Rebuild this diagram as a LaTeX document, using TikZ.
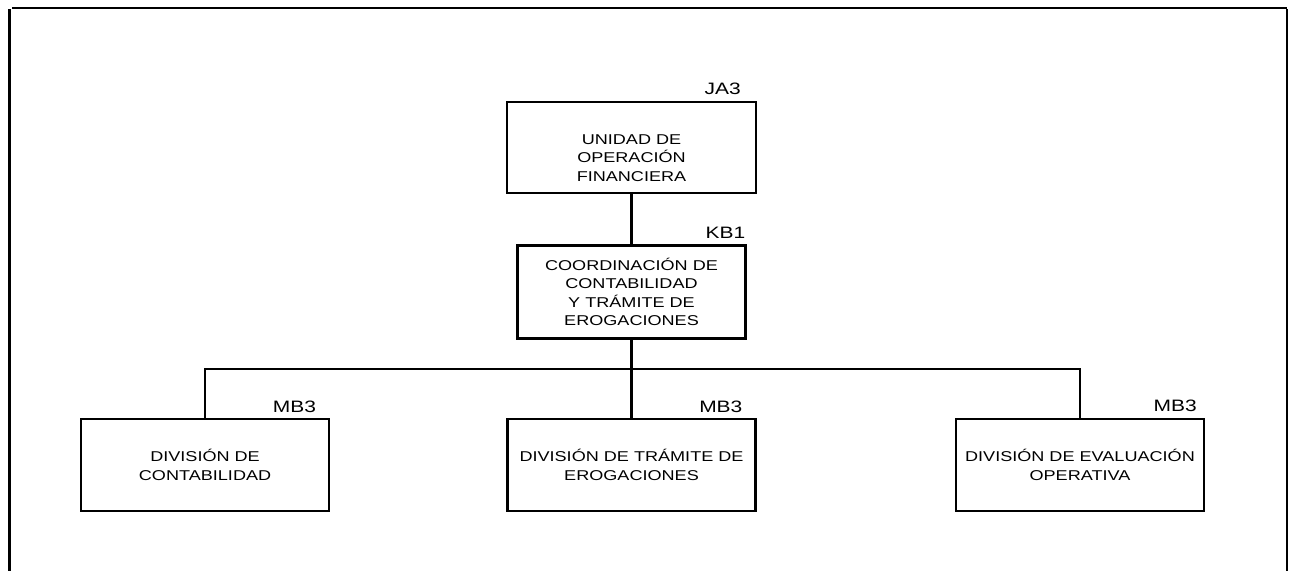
\documentclass[tikz,border=0pt]{standalone}
\usepackage{fontspec}
\setmainfont[FakeStretch=1.27]{Liberation Sans}
\usepackage{xcolor}
\usepackage{tikz}
\usetikzlibrary{positioning,calc}
\definecolor{Ink}{HTML}{000000}
\tikzset{
  unit/.style={
    draw=Ink, line width=1.4pt, align=center,
    minimum width=4.96cm, minimum height=1.84cm,
    inner sep=2pt, font=\fontsize{8.1}{10.4}\selectfont
  },
  unitTop/.style={unit,minimum width=4.98cm,minimum height=1.82cm},
  unitCoord/.style={unit,minimum width=4.56cm,minimum height=1.86cm},
  code/.style={inner sep=0pt,anchor=base east,font=\fontsize{9.4}{11}\selectfont},
  link/.style={draw=Ink,line width=1.6pt},
  frame/.style={draw=Ink,line cap=butt}
}
\begin{document}
\begin{tikzpicture}
  \useasboundingbox (0,0) rectangle (25.78,-11.42);
  % outer frame
  \draw[frame,line width=2.2pt] (0.19,-0.18) -- (0.19,-11.42);
  \draw[frame,line width=1.4pt] (0.24,-0.16) -- (25.74,-0.16);
  \draw[frame,line width=0.8pt] (25.74,-0.18) -- (25.74,-11.42);
  % boxes
  \node[unitTop] (uof) at (12.63,-2.95) {\rule{0pt}{0.62cm}UNIDAD DE\\OPERACIÓN\\FINANCIERA};
  \node[unitCoord,below=1cm of uof] (cct) {COORDINACIÓN DE\\CONTABILIDAD\\ Y TRÁMITE DE\\EROGACIONES};
  \node[unit,below=1.56cm of cct] (dte) {DIVISIÓN DE TRÁMITE DE\\EROGACIONES};
  \node[unit,left=3.52cm of dte] (dc) {DIVISIÓN DE\\CONTABILIDAD};
  \node[unit,right=3.96cm of dte] (deo) {DIVISIÓN DE EVALUACIÓN\\OPERATIVA};
  % codes
  \node[code] (uofCode) at ($(uof.north east)+(-0.32,0.12)$) {JA3};
  \node[code] (cctCode) at ($(cct.north east)+(-0.02,0.12)$) {KB1};
  \node[code] (dcCode) at ($(dc.north east)+(-0.28,0.10)$) {MB3};
  \node[code] (dteCode) at ($(dte.north east)+(-0.28,0.10)$) {MB3};
  \node[code] (deoCode) at ($(deo.north east)+(-0.16,0.12)$) {MB3};
  % lines
  \coordinate (bus) at (0,-7.38);
  \draw[link] (uof) -- (cct);
  \draw[link] (cct) -- (dte);
  \draw[link] (dc.north) -- (dc.north |- bus) -- (deo.north |- bus) -- (deo.north);
\end{tikzpicture}
\end{document}
